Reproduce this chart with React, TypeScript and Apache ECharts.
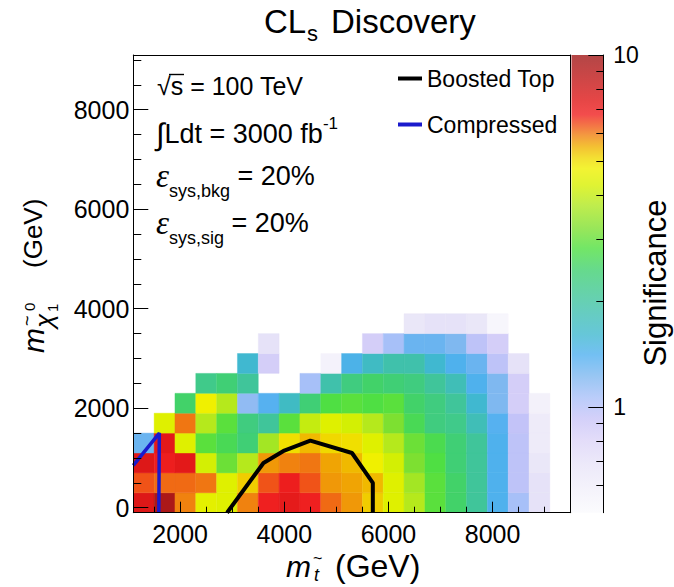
import React, { useEffect, useRef } from "react";
import * as echarts from "echarts";

// ---------------- data ----------------
const stopMassCenters = [1300, 1700, 2100, 2500, 2900, 3300, 3700, 4100, 4500, 4900, 5300, 5700, 6100, 6500, 6900, 7300, 7700, 8100, 8500, 8900, 9300];
const lspMassCenters = [100, 500, 900, 1300, 1700, 2100, 2500, 2900, 3300, 3700];

const sigRow0 = [7.5, 9.5, 5.9, 4.5, 4.4, 5.9, 6.8, 7.2, 6.8, 6.1, 5.7, 5.2, 4.4, 3.8, 2.9, 2.5, 2.05, 1.42, 1.07, 0.7, null];
const sigRow1 = [6.3, 6.1, 6.1, 6.0, 4.4, 5.2, 6.3, 6.9, 6.3, 5.7, 5.6, 5.4, 4.4, 3.6, 2.9, 2.5, 2.05, 1.42, 0.97, 0.7, null];
const sigRow2 = [7.5, 6.9, 7.3, 4.2, 3.05, 3.8, 5.7, 5.9, 6.0, 5.6, 5.4, 4.75, 4.2, 3.2, 2.8, 2.4, 2.05, 1.42, 0.97, 0.66, null];
const sigRow3 = [1.3, 7.3, 4.4, 2.9, 2.65, 2.4, 3.6, 5.0, 5.4, 5.1, 5.0, 4.4, 3.8, 3.05, 2.7, 2.4, 2.05, 1.42, 0.97, 0.62, null];
const sigRow4 = [null, 4.4, 6.0, 3.8, 2.9, 2.3, 2.05, 2.9, 4.0, 4.4, 4.2, 3.8, 3.2, 2.65, 2.3, 2.2, 1.8, 1.38, 0.95, 0.62, null];
const sigRow5 = [null, null, 2.5, 4.75, 3.8, 1.15, 1.38, 1.7, 2.4, 2.8, 2.9, 2.8, 2.9, 2.5, 2.3, 2.05, 1.6, 1.22, 0.85, 0.57, null];
const sigRow6 = [null, null, null, 2.2, 2.4, 2.05, null, null, 1.07, 1.9, 2.3, 2.5, 2.4, 2.3, 2.05, 1.8, 1.42, 1.22, 0.85, null, null];
const sigRow7 = [null, null, null, null, null, 1.6, 0.85, null, null, 0.56, 1.45, 1.7, 1.9, 1.9, 1.6, 1.42, 1.3, 0.97, 0.7, null, null];
const sigRow8 = [null, null, null, null, null, null, 0.7, null, null, null, null, 0.85, 1.07, 1.3, 1.3, 1.22, 0.97, 0.85, null, null, null];
const sigRow9 = [null, null, null, null, null, null, null, null, null, null, null, null, null, 0.66, 0.7, 0.7, 0.66, 0.53, null, null, null];

const boostedTopX = [2900, 3600, 4000, 4500, 5300, 5700, 5700];
const boostedTopY = [-100, 900, 1150, 1350, 1100, 500, -100];
const compressedX = [1100, 1600, 1590];
const compressedY = [850, 1500, -100];

const xMajorTicks = [2000, 4000, 6000, 8000];
const xMinorTicks = [1500, 2500, 3000, 3500, 4500, 5000, 5500, 6500, 7000, 7500, 8500, 9000];
const yMajorTicks = [0, 2000, 4000, 6000, 8000];
const yMinorTicks = [500, 1000, 1500, 2500, 3000, 3500, 4500, 5000, 5500, 6500, 7000, 7500, 8500, 9000];
const zMajorTicks = [1, 10];
const zMinorTicks = [0.6, 0.7, 0.8, 0.9, 2, 3, 4, 5, 6, 7, 8, 9];

const BIN_W = 400;
const BIN_H = 400;
const X_MIN = 1100, X_MAX = 9500, Y_MIN = -100, Y_MAX = 9100;
const Z_MIN = 0.5, Z_MAX = 10;

// ---------------- palette ----------------
const paletteStops: [number, string][] = [
  [0.0, "#fafafd"], [0.05, "#f2f0fa"], [0.104, "#e8e4f8"], [0.159, "#dcd4f8"],
  [0.207, "#c8c4f8"], [0.253, "#a8c0f8"], [0.297, "#80b8f0"], [0.345, "#50b0f0"],
  [0.388, "#40b8d0"], [0.438, "#40c0b0"], [0.486, "#40c890"], [0.53, "#40d070"],
  [0.578, "#50e040"], [0.622, "#80e030"], [0.672, "#b0e820"], [0.716, "#d8f000"],
  [0.752, "#f0f000"], [0.775, "#f0d800"], [0.8, "#f0b000"], [0.825, "#f08010"],
  [0.847, "#f05018"], [0.87, "#f02020"], [0.9, "#e01818"], [0.95, "#c01818"], [1.0, "#a01818"],
];

function hexRgb(h: string) {
  return [parseInt(h.slice(1, 3), 16), parseInt(h.slice(3, 5), 16), parseInt(h.slice(5, 7), 16)];
}
function colorFor(v: number) {
  const lmin = Math.log10(Z_MIN), lmax = Math.log10(Z_MAX);
  let f = (Math.log10(v) - lmin) / (lmax - lmin);
  f = Math.max(0, Math.min(1, f));
  for (let i = 0; i < paletteStops.length - 1; i++) {
    const [f0, c0] = paletteStops[i];
    const [f1, c1] = paletteStops[i + 1];
    if (f >= f0 && f <= f1) {
      const t = (f - f0) / (f1 - f0 || 1);
      const a = hexRgb(c0), b = hexRgb(c1);
      const r = a.map((x, k) => Math.round(x + (b[k] - x) * t));
      return `rgb(${r[0]},${r[1]},${r[2]})`;
    }
  }
  return paletteStops[paletteStops.length - 1][1];
}

const FONT = '"Liberation Sans", Arial, Helvetica, sans-serif';
const SERIF = '"Liberation Serif", "Times New Roman", serif';

function txt(x: number, y: number, text: string, fontSize: number, extra: any = {}) {
  return {
    type: "text",
    x,
    y,
    silent: true,
    style: {
      text,
      fontSize,
      fontFamily: FONT,
      fill: "#000",
      align: "left",
      verticalAlign: "middle",
      ...extra,
    },
  };
}

export default function App() {
  const ref = useRef<HTMLDivElement>(null);
  useEffect(() => {
    if (!ref.current) return;
    const chart = echarts.init(ref.current, undefined, { renderer: "svg" });

    const sigRows = [sigRow0, sigRow1, sigRow2, sigRow3, sigRow4, sigRow5, sigRow6, sigRow7, sigRow8, sigRow9];
    const cells: number[][] = [];
    sigRows.forEach((row, j) => {
      row.forEach((v, i) => {
        if (v !== null && v !== undefined) cells.push([stopMassCenters[i], lspMassCenters[j], v as number]);
      });
    });

    const lmin = Math.log10(Z_MIN), lmax = Math.log10(Z_MAX);
    const axisLineStyle = { color: "#000", width: 1 };
    const plain = (v: number) => String(v);

    const option: any = {
      animation: false,
      backgroundColor: "#fff",
      textStyle: { fontFamily: FONT, color: "#000" },
      grid: [
        { left: 133.3, top: 55, width: 437.4, height: 457.7, show: false },
        { left: 571.5, top: 55, width: 31.8, height: 457.7, show: false },
      ],
      legend: {
        data: ["Boosted Top", "Compressed"],
        orient: "vertical",
        left: 393,
        top: 62,
        icon: "rect",
        itemWidth: 24,
        itemHeight: 4,
        itemGap: 23,
        selectedMode: false,
        textStyle: { fontSize: 23, color: "#000", fontFamily: FONT },
      },
      xAxis: [
        {
          type: "value", gridIndex: 0, min: X_MIN, max: X_MAX, position: "bottom", z: 10,
          axisLine: { show: true, onZero: false, lineStyle: axisLineStyle },
          axisTick: { show: true, inside: true, length: 11, customValues: xMajorTicks, lineStyle: axisLineStyle },
          axisLabel: { show: true, customValues: xMajorTicks, fontSize: 25, color: "#000", margin: 9, fontFamily: FONT, formatter: plain },
          splitLine: { show: false },
        },
        {
          type: "value", gridIndex: 0, min: X_MIN, max: X_MAX, position: "bottom", z: 10,
          axisLine: { show: false, onZero: false },
          axisTick: { show: true, inside: true, length: 6, customValues: xMinorTicks, lineStyle: axisLineStyle },
          axisLabel: { show: false },
          splitLine: { show: false },
        },
        {
          type: "value", gridIndex: 0, min: X_MIN, max: X_MAX, position: "top", z: 10,
          axisLine: { show: true, onZero: false, lineStyle: axisLineStyle },
          axisTick: { show: false },
          axisLabel: { show: false },
          splitLine: { show: false },
        },
        {
          type: "value", gridIndex: 1, min: 0, max: 1, show: false,
        },
      ],
      yAxis: [
        {
          type: "value", gridIndex: 0, min: Y_MIN, max: Y_MAX, position: "left", z: 10,
          axisLine: { show: true, onZero: false, lineStyle: axisLineStyle },
          axisTick: { show: true, inside: true, length: 15, customValues: yMajorTicks, lineStyle: axisLineStyle },
          axisLabel: { show: true, customValues: yMajorTicks, fontSize: 25, color: "#000", margin: 4, fontFamily: FONT, formatter: plain },
          splitLine: { show: false },
        },
        {
          type: "value", gridIndex: 0, min: Y_MIN, max: Y_MAX, position: "left", z: 10,
          axisLine: { show: false, onZero: false },
          axisTick: { show: true, inside: true, length: 8, customValues: yMinorTicks, lineStyle: axisLineStyle },
          axisLabel: { show: false },
          splitLine: { show: false },
        },
        {
          type: "value", gridIndex: 0, min: Y_MIN, max: Y_MAX, position: "right", z: 10,
          axisLine: { show: true, onZero: false, lineStyle: axisLineStyle },
          axisTick: { show: false },
          axisLabel: { show: false },
          splitLine: { show: false },
        },
        {
          type: "value", gridIndex: 1, min: lmin, max: lmax, position: "right", z: 10,
          axisLine: { show: true, onZero: false, lineStyle: axisLineStyle },
          axisTick: { show: true, inside: true, length: 15, customValues: zMajorTicks.map((v) => Math.log10(v)), lineStyle: axisLineStyle },
          axisLabel: {
            show: true, customValues: zMajorTicks.map((v) => Math.log10(v)), fontSize: 23, color: "#000", margin: 10, fontFamily: FONT,
            formatter: (v: number) => String(Math.round(Math.pow(10, v))),
          },
          splitLine: { show: false },
        },
        {
          type: "value", gridIndex: 1, min: lmin, max: lmax, position: "right", z: 10,
          axisLine: { show: false, onZero: false },
          axisTick: { show: true, inside: true, length: 7, customValues: zMinorTicks.map((v) => Math.log10(v)), lineStyle: axisLineStyle },
          axisLabel: { show: false },
          splitLine: { show: false },
        },
      ],
      series: [
        {
          type: "custom",
          name: "Significance",
          xAxisIndex: 0,
          yAxisIndex: 0,
          clip: true,
          data: cells,
          renderItem: (params: any, api: any) => {
            const x = api.value(0), y = api.value(1), v = api.value(2);
            const p0 = api.coord([x - BIN_W / 2, y + BIN_H / 2]);
            const p1 = api.coord([x + BIN_W / 2, y - BIN_H / 2]);
            const c = colorFor(v);
            return {
              type: "rect",
              shape: { x: p0[0], y: p0[1], width: p1[0] - p0[0], height: p1[1] - p0[1] },
              style: { fill: c, stroke: c, lineWidth: 0.4 },
            };
          },
        },
        {
          type: "custom",
          name: "colorbar",
          xAxisIndex: 3,
          yAxisIndex: 3,
          data: [[0]],
          renderItem: (params: any, api: any) => {
            const p0 = api.coord([0, lmax]);
            const p1 = api.coord([1, lmin]);
            return {
              type: "rect",
              shape: { x: p0[0], y: p0[1], width: p1[0] - p0[0], height: p1[1] - p0[1] },
              style: {
                opacity: 0.8,
                fill: new echarts.graphic.LinearGradient(0, 1, 0, 0, paletteStops.map(([f, c]) => ({ offset: f, color: c }))),
              },
            };
          },
        },
        {
          type: "line",
          name: "Boosted Top",
          xAxisIndex: 0,
          yAxisIndex: 0,
          data: boostedTopX.map((x, i) => [x, boostedTopY[i]]),
          symbol: "none",
          showSymbol: false,
          z: 5,
          itemStyle: { color: "#000" },
          lineStyle: { color: "#000", width: 4 },
        },
        {
          type: "line",
          name: "Compressed",
          xAxisIndex: 0,
          yAxisIndex: 0,
          data: compressedX.map((x, i) => [x, compressedY[i]]),
          symbol: "none",
          showSymbol: false,
          z: 5,
          itemStyle: { color: "#1a1acc" },
          lineStyle: { color: "#1a1acc", width: 3.5 },
        },
      ],
      graphic: [
        // title
        txt(264, 21, "CL", 33),
        txt(307, 33, "s", 22),
        txt(331, 21, "Discovery", 33),
        // annotations
        txt(157, 86, "\u221As = 100 TeV", 25),
        { type: "line", silent: true, shape: { x1: 169, y1: 74.5, x2: 184, y2: 74.5 }, style: { stroke: "#000", lineWidth: 1.4 } },
        {
          type: "text", x: 156, y: 134, silent: true,
          style: {
            text: "{i|\u222B}{a|Ldt = 3000 fb}{p|-1}",
            align: "left", verticalAlign: "middle", fill: "#000",
            rich: {
              i: { fontSize: 31, lineHeight: 38, fontFamily: FONT, fill: "#000" },
              a: { fontSize: 27, lineHeight: 38, fontFamily: FONT, fill: "#000" },
              p: { fontSize: 17, lineHeight: 16, fontFamily: FONT, verticalAlign: "top", fill: "#000" },
            },
          },
        },
        {
          type: "text", x: 156, y: 176, silent: true,
          style: {
            text: "{e|\u03B5}{s|sys,bkg}{a| = 20%}",
            align: "left", verticalAlign: "middle", fill: "#000",
            rich: {
              e: { fontSize: 33, lineHeight: 48, fontFamily: SERIF, fontStyle: "italic", fill: "#000" },
              s: { fontSize: 18, lineHeight: 18, fontFamily: FONT, verticalAlign: "bottom", fill: "#000" },
              a: { fontSize: 27, lineHeight: 48, fontFamily: FONT, fill: "#000" },
            },
          },
        },
        {
          type: "text", x: 156, y: 223, silent: true,
          style: {
            text: "{e|\u03B5}{s|sys,sig}{a| = 20%}",
            align: "left", verticalAlign: "middle", fill: "#000",
            rich: {
              e: { fontSize: 33, lineHeight: 48, fontFamily: SERIF, fontStyle: "italic", fill: "#000" },
              s: { fontSize: 18, lineHeight: 18, fontFamily: FONT, verticalAlign: "bottom", fill: "#000" },
              a: { fontSize: 27, lineHeight: 48, fontFamily: FONT, fill: "#000" },
            },
          },
        },
        // x axis title
        txt(286, 566, "m", 30, { fontStyle: "italic" }),
        txt(314, 575, "t", 18, { fontStyle: "italic" }),
        txt(313, 558, "~", 16),
        txt(335, 566, "(GeV)", 32),
        // y axis title
        {
          type: "group",
          x: 33,
          y: 353,
          rotation: Math.PI / 2,
          children: [
            txt(0, 0, "m", 30, { fontStyle: "italic" }),
            txt(25, 11, "\u03C7", 26, { fontStyle: "italic" }),
            txt(27, -6, "~", 18),
            txt(41, 19, "1", 15),
            txt(42, -4, "0", 15),
            txt(85, 0, "(GeV)", 26),
          ],
        },
        // colorbar title
        {
          type: "text",
          x: 655,
          y: 283,
          rotation: Math.PI / 2,
          silent: true,
          style: { text: "Significance", fontSize: 31, fontFamily: FONT, fill: "#000", align: "center", verticalAlign: "middle" },
        },
      ],
    };

    chart.setOption(option);
    return () => chart.dispose();
  }, []);

  return (
    <div
      ref={ref}
      style={{ position: "absolute", left: 0, top: 0, width: 674, height: 587, background: "#fff" }}
    />
  );
}
